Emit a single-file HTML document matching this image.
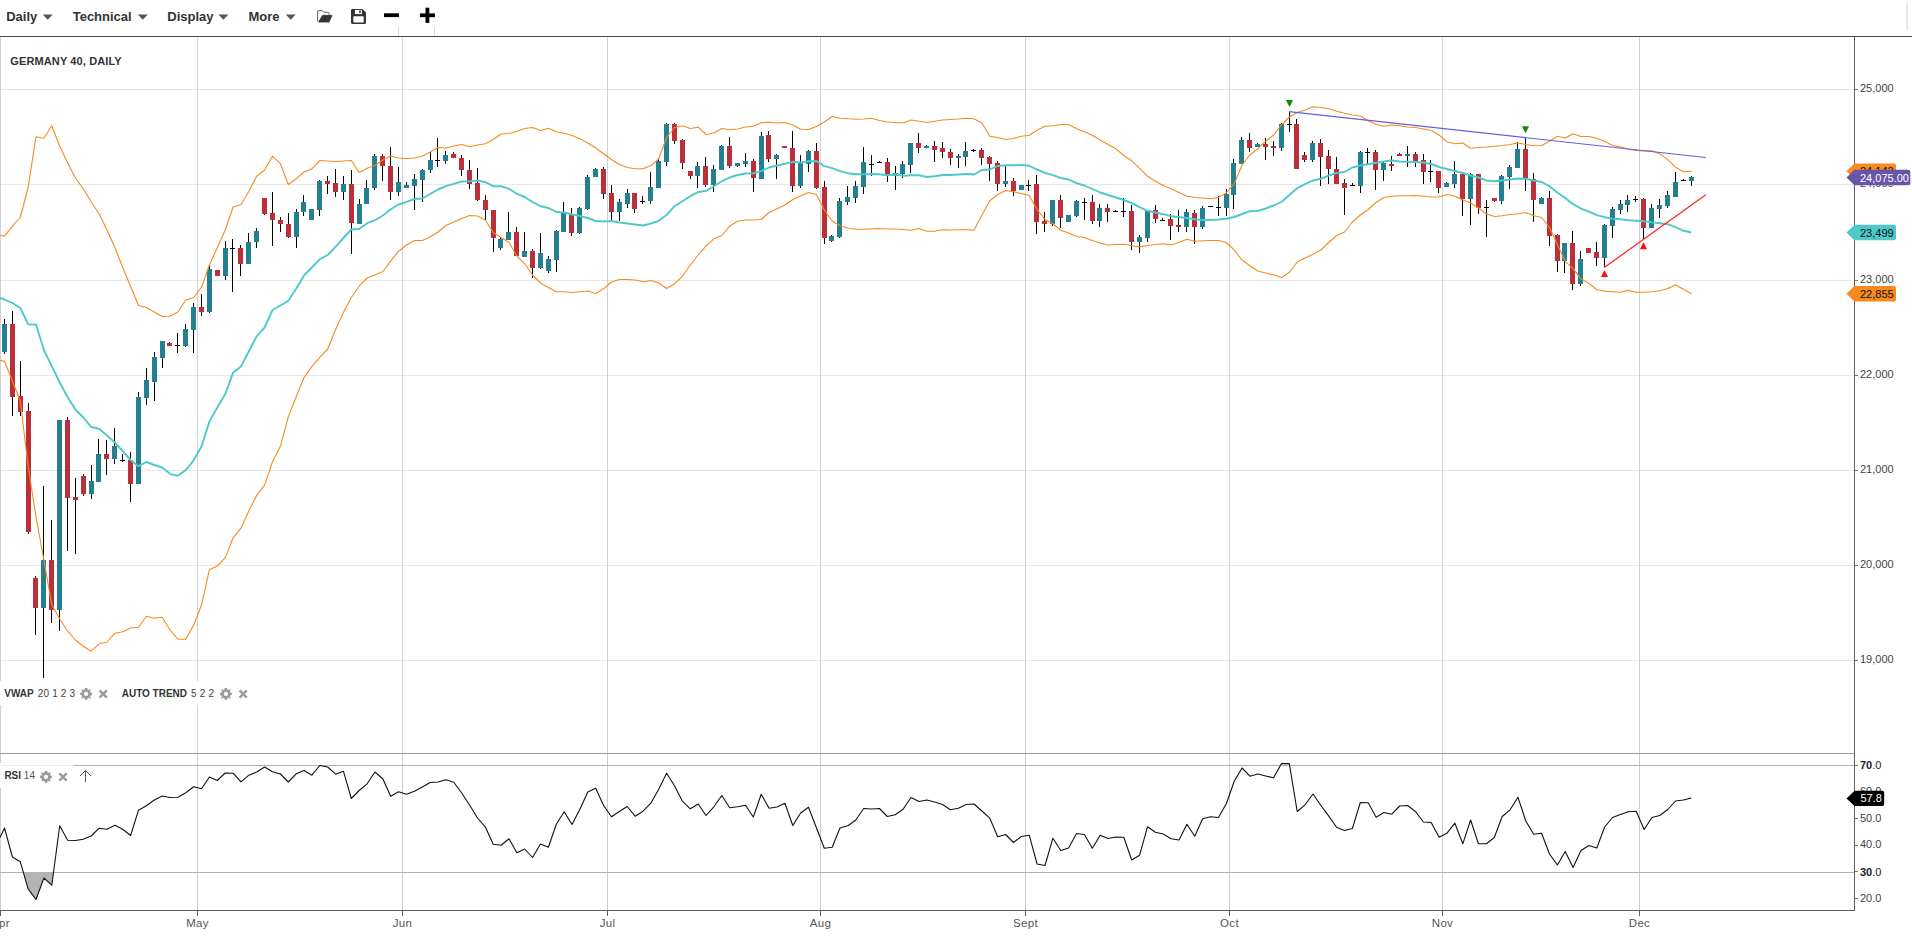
<!DOCTYPE html>
<html><head><meta charset="utf-8"><title>Germany 40 Daily</title>
<style>html,body{margin:0;padding:0;background:#fff;}body{width:1912px;height:936px;overflow:hidden;position:relative;font-family:"Liberation Sans",Arial,sans-serif}</style>
</head><body>
<svg width="1912" height="936" viewBox="0 0 1912 936" style="position:absolute;left:0;top:0">
<g shape-rendering="crispEdges">
<rect x="0" y="89" width="1854" height="1" fill="#e7e7e7"/>
<rect x="0" y="184" width="1854" height="1" fill="#e7e7e7"/>
<rect x="0" y="280" width="1854" height="1" fill="#e7e7e7"/>
<rect x="0" y="375" width="1854" height="1" fill="#e7e7e7"/>
<rect x="0" y="470" width="1854" height="1" fill="#e7e7e7"/>
<rect x="0" y="565" width="1854" height="1" fill="#e7e7e7"/>
<rect x="0" y="660" width="1854" height="1" fill="#e7e7e7"/>
<rect x="0" y="37" width="1" height="716" fill="#d2d2d2"/>
<rect x="0" y="754" width="1" height="156" fill="#cdcdcd"/>
<rect x="197" y="37" width="1" height="716" fill="#d2d2d2"/>
<rect x="197" y="754" width="1" height="156" fill="#cdcdcd"/>
<rect x="402" y="37" width="1" height="716" fill="#d2d2d2"/>
<rect x="402" y="754" width="1" height="156" fill="#cdcdcd"/>
<rect x="607" y="37" width="1" height="716" fill="#d2d2d2"/>
<rect x="607" y="754" width="1" height="156" fill="#cdcdcd"/>
<rect x="820" y="37" width="1" height="716" fill="#d2d2d2"/>
<rect x="820" y="754" width="1" height="156" fill="#cdcdcd"/>
<rect x="1025" y="37" width="1" height="716" fill="#d2d2d2"/>
<rect x="1025" y="754" width="1" height="156" fill="#cdcdcd"/>
<rect x="1229" y="37" width="1" height="716" fill="#d2d2d2"/>
<rect x="1229" y="754" width="1" height="156" fill="#cdcdcd"/>
<rect x="1442" y="37" width="1" height="716" fill="#d2d2d2"/>
<rect x="1442" y="754" width="1" height="156" fill="#cdcdcd"/>
<rect x="1639" y="37" width="1" height="716" fill="#d2d2d2"/>
<rect x="1639" y="754" width="1" height="156" fill="#cdcdcd"/>
<rect x="0" y="753" width="1854" height="1" fill="#9a9a9a"/>
<rect x="0" y="765" width="1854" height="1" fill="#b0b0b0"/>
<rect x="0" y="872" width="1854" height="1" fill="#b0b0b0"/>
</g>
<g shape-rendering="crispEdges">
<rect x="4" y="319" width="1" height="35" fill="#000"/>
<rect x="2" y="324" width="5" height="28" fill="#24808f"/>
<rect x="12" y="311" width="1" height="105" fill="#000"/>
<rect x="10" y="324" width="5" height="73" fill="#bb2f3a"/>
<rect x="20" y="361" width="1" height="55" fill="#000"/>
<rect x="18" y="396" width="5" height="16" fill="#bb2f3a"/>
<rect x="28" y="403" width="1" height="131" fill="#000"/>
<rect x="26" y="411" width="5" height="121" fill="#bb2f3a"/>
<rect x="35" y="576" width="1" height="59" fill="#000"/>
<rect x="33" y="578" width="5" height="30" fill="#bb2f3a"/>
<rect x="43" y="486" width="1" height="192" fill="#000"/>
<rect x="41" y="560" width="5" height="48" fill="#24808f"/>
<rect x="51" y="520" width="1" height="103" fill="#000"/>
<rect x="49" y="560" width="5" height="50" fill="#bb2f3a"/>
<rect x="59" y="420" width="1" height="211" fill="#000"/>
<rect x="57" y="420" width="5" height="190" fill="#24808f"/>
<rect x="67" y="417" width="1" height="134" fill="#000"/>
<rect x="65" y="420" width="5" height="78" fill="#bb2f3a"/>
<rect x="75" y="478" width="1" height="76" fill="#000"/>
<rect x="73" y="497" width="5" height="3" fill="#bb2f3a"/>
<rect x="83" y="474" width="1" height="22" fill="#000"/>
<rect x="81" y="476" width="5" height="18" fill="#bb2f3a"/>
<rect x="91" y="465" width="1" height="34" fill="#000"/>
<rect x="89" y="481" width="5" height="13" fill="#24808f"/>
<rect x="98" y="439" width="1" height="43" fill="#000"/>
<rect x="96" y="454" width="5" height="28" fill="#24808f"/>
<rect x="106" y="440" width="1" height="35" fill="#000"/>
<rect x="104" y="454" width="5" height="5" fill="#bb2f3a"/>
<rect x="114" y="428" width="1" height="36" fill="#000"/>
<rect x="112" y="446" width="5" height="13" fill="#24808f"/>
<rect x="122" y="454" width="1" height="8" fill="#000"/>
<rect x="120" y="460" width="5" height="1" fill="#000"/>
<rect x="130" y="452" width="1" height="50" fill="#000"/>
<rect x="128" y="460" width="5" height="24" fill="#bb2f3a"/>
<rect x="138" y="392" width="1" height="92" fill="#000"/>
<rect x="136" y="397" width="5" height="87" fill="#24808f"/>
<rect x="146" y="368" width="1" height="37" fill="#000"/>
<rect x="144" y="380" width="5" height="18" fill="#24808f"/>
<rect x="154" y="352" width="1" height="49" fill="#000"/>
<rect x="152" y="357" width="5" height="25" fill="#24808f"/>
<rect x="162" y="341" width="1" height="27" fill="#000"/>
<rect x="160" y="341" width="5" height="17" fill="#24808f"/>
<rect x="169" y="342" width="1" height="4" fill="#000"/>
<rect x="167" y="343" width="5" height="3" fill="#bb2f3a"/>
<rect x="177" y="333" width="1" height="20" fill="#000"/>
<rect x="175" y="345" width="5" height="1" fill="#000"/>
<rect x="185" y="324" width="1" height="23" fill="#000"/>
<rect x="183" y="329" width="5" height="17" fill="#24808f"/>
<rect x="193" y="303" width="1" height="50" fill="#000"/>
<rect x="191" y="307" width="5" height="23" fill="#24808f"/>
<rect x="201" y="294" width="1" height="22" fill="#000"/>
<rect x="199" y="307" width="5" height="5" fill="#bb2f3a"/>
<rect x="209" y="265" width="1" height="48" fill="#000"/>
<rect x="207" y="269" width="5" height="43" fill="#24808f"/>
<rect x="217" y="270" width="1" height="6" fill="#000"/>
<rect x="215" y="270" width="5" height="6" fill="#bb2f3a"/>
<rect x="225" y="241" width="1" height="39" fill="#000"/>
<rect x="223" y="248" width="5" height="28" fill="#24808f"/>
<rect x="232" y="239" width="1" height="53" fill="#000"/>
<rect x="230" y="248" width="5" height="1" fill="#000"/>
<rect x="240" y="245" width="1" height="31" fill="#000"/>
<rect x="238" y="248" width="5" height="16" fill="#bb2f3a"/>
<rect x="248" y="233" width="1" height="31" fill="#000"/>
<rect x="246" y="242" width="5" height="22" fill="#24808f"/>
<rect x="256" y="228" width="1" height="20" fill="#000"/>
<rect x="254" y="231" width="5" height="11" fill="#24808f"/>
<rect x="264" y="198" width="1" height="17" fill="#000"/>
<rect x="262" y="198" width="5" height="16" fill="#bb2f3a"/>
<rect x="272" y="192" width="1" height="54" fill="#000"/>
<rect x="270" y="213" width="5" height="7" fill="#bb2f3a"/>
<rect x="280" y="217" width="1" height="15" fill="#000"/>
<rect x="278" y="220" width="5" height="4" fill="#bb2f3a"/>
<rect x="288" y="213" width="1" height="25" fill="#000"/>
<rect x="286" y="224" width="5" height="13" fill="#bb2f3a"/>
<rect x="296" y="209" width="1" height="39" fill="#000"/>
<rect x="294" y="212" width="5" height="25" fill="#24808f"/>
<rect x="303" y="195" width="1" height="21" fill="#000"/>
<rect x="301" y="202" width="5" height="10" fill="#24808f"/>
<rect x="311" y="209" width="1" height="11" fill="#000"/>
<rect x="309" y="209" width="5" height="11" fill="#24808f"/>
<rect x="319" y="180" width="1" height="36" fill="#000"/>
<rect x="317" y="181" width="5" height="29" fill="#24808f"/>
<rect x="327" y="176" width="1" height="18" fill="#000"/>
<rect x="325" y="181" width="5" height="3" fill="#bb2f3a"/>
<rect x="335" y="169" width="1" height="28" fill="#000"/>
<rect x="333" y="183" width="5" height="9" fill="#bb2f3a"/>
<rect x="343" y="176" width="1" height="24" fill="#000"/>
<rect x="341" y="184" width="5" height="8" fill="#24808f"/>
<rect x="351" y="170" width="1" height="84" fill="#000"/>
<rect x="349" y="184" width="5" height="39" fill="#bb2f3a"/>
<rect x="359" y="199" width="1" height="25" fill="#000"/>
<rect x="357" y="204" width="5" height="20" fill="#24808f"/>
<rect x="366" y="180" width="1" height="24" fill="#000"/>
<rect x="364" y="188" width="5" height="16" fill="#24808f"/>
<rect x="374" y="154" width="1" height="36" fill="#000"/>
<rect x="372" y="156" width="5" height="32" fill="#24808f"/>
<rect x="382" y="154" width="1" height="27" fill="#000"/>
<rect x="380" y="156" width="5" height="10" fill="#bb2f3a"/>
<rect x="390" y="147" width="1" height="53" fill="#000"/>
<rect x="388" y="166" width="5" height="26" fill="#bb2f3a"/>
<rect x="398" y="167" width="1" height="29" fill="#000"/>
<rect x="396" y="182" width="5" height="10" fill="#24808f"/>
<rect x="406" y="182" width="1" height="6" fill="#000"/>
<rect x="404" y="185" width="5" height="3" fill="#24808f"/>
<rect x="414" y="174" width="1" height="36" fill="#000"/>
<rect x="412" y="179" width="5" height="7" fill="#24808f"/>
<rect x="422" y="169" width="1" height="33" fill="#000"/>
<rect x="420" y="170" width="5" height="10" fill="#24808f"/>
<rect x="430" y="152" width="1" height="21" fill="#000"/>
<rect x="428" y="160" width="5" height="10" fill="#24808f"/>
<rect x="437" y="138" width="1" height="29" fill="#000"/>
<rect x="435" y="160" width="5" height="1" fill="#000"/>
<rect x="445" y="151" width="1" height="13" fill="#000"/>
<rect x="443" y="155" width="5" height="6" fill="#24808f"/>
<rect x="453" y="152" width="1" height="6" fill="#000"/>
<rect x="451" y="154" width="5" height="4" fill="#bb2f3a"/>
<rect x="461" y="155" width="1" height="21" fill="#000"/>
<rect x="459" y="158" width="5" height="12" fill="#bb2f3a"/>
<rect x="469" y="160" width="1" height="29" fill="#000"/>
<rect x="467" y="170" width="5" height="14" fill="#bb2f3a"/>
<rect x="477" y="168" width="1" height="33" fill="#000"/>
<rect x="475" y="183" width="5" height="17" fill="#bb2f3a"/>
<rect x="485" y="195" width="1" height="25" fill="#000"/>
<rect x="483" y="200" width="5" height="10" fill="#bb2f3a"/>
<rect x="493" y="210" width="1" height="42" fill="#000"/>
<rect x="491" y="210" width="5" height="28" fill="#bb2f3a"/>
<rect x="500" y="237" width="1" height="13" fill="#000"/>
<rect x="498" y="239" width="5" height="9" fill="#24808f"/>
<rect x="508" y="212" width="1" height="28" fill="#000"/>
<rect x="506" y="232" width="5" height="8" fill="#24808f"/>
<rect x="516" y="227" width="1" height="29" fill="#000"/>
<rect x="514" y="232" width="5" height="24" fill="#bb2f3a"/>
<rect x="524" y="232" width="1" height="25" fill="#000"/>
<rect x="522" y="251" width="5" height="6" fill="#24808f"/>
<rect x="532" y="249" width="1" height="29" fill="#000"/>
<rect x="530" y="251" width="5" height="17" fill="#bb2f3a"/>
<rect x="540" y="233" width="1" height="36" fill="#000"/>
<rect x="538" y="253" width="5" height="15" fill="#24808f"/>
<rect x="548" y="256" width="1" height="17" fill="#000"/>
<rect x="546" y="259" width="5" height="12" fill="#24808f"/>
<rect x="556" y="230" width="1" height="42" fill="#000"/>
<rect x="554" y="231" width="5" height="29" fill="#24808f"/>
<rect x="563" y="202" width="1" height="30" fill="#000"/>
<rect x="561" y="212" width="5" height="20" fill="#24808f"/>
<rect x="571" y="208" width="1" height="28" fill="#000"/>
<rect x="569" y="215" width="5" height="18" fill="#bb2f3a"/>
<rect x="579" y="207" width="1" height="27" fill="#000"/>
<rect x="577" y="208" width="5" height="25" fill="#24808f"/>
<rect x="587" y="175" width="1" height="35" fill="#000"/>
<rect x="585" y="177" width="5" height="32" fill="#24808f"/>
<rect x="595" y="168" width="1" height="9" fill="#000"/>
<rect x="593" y="169" width="5" height="8" fill="#24808f"/>
<rect x="603" y="167" width="1" height="32" fill="#000"/>
<rect x="601" y="169" width="5" height="25" fill="#bb2f3a"/>
<rect x="611" y="185" width="1" height="35" fill="#000"/>
<rect x="609" y="193" width="5" height="19" fill="#bb2f3a"/>
<rect x="619" y="199" width="1" height="22" fill="#000"/>
<rect x="617" y="202" width="5" height="10" fill="#24808f"/>
<rect x="627" y="189" width="1" height="19" fill="#000"/>
<rect x="625" y="193" width="5" height="11" fill="#24808f"/>
<rect x="634" y="193" width="1" height="20" fill="#000"/>
<rect x="632" y="193" width="5" height="16" fill="#bb2f3a"/>
<rect x="642" y="196" width="1" height="8" fill="#000"/>
<rect x="640" y="201" width="5" height="1" fill="#000"/>
<rect x="650" y="172" width="1" height="32" fill="#000"/>
<rect x="648" y="187" width="5" height="14" fill="#24808f"/>
<rect x="658" y="158" width="1" height="30" fill="#000"/>
<rect x="656" y="161" width="5" height="27" fill="#24808f"/>
<rect x="666" y="123" width="1" height="43" fill="#000"/>
<rect x="664" y="124" width="5" height="38" fill="#24808f"/>
<rect x="674" y="123" width="1" height="21" fill="#000"/>
<rect x="672" y="124" width="5" height="17" fill="#bb2f3a"/>
<rect x="682" y="139" width="1" height="30" fill="#000"/>
<rect x="680" y="140" width="5" height="23" fill="#bb2f3a"/>
<rect x="690" y="171" width="1" height="8" fill="#000"/>
<rect x="688" y="171" width="5" height="5" fill="#bb2f3a"/>
<rect x="697" y="162" width="1" height="26" fill="#000"/>
<rect x="695" y="166" width="5" height="10" fill="#24808f"/>
<rect x="705" y="157" width="1" height="30" fill="#000"/>
<rect x="703" y="166" width="5" height="19" fill="#bb2f3a"/>
<rect x="713" y="165" width="1" height="27" fill="#000"/>
<rect x="711" y="169" width="5" height="16" fill="#24808f"/>
<rect x="721" y="145" width="1" height="25" fill="#000"/>
<rect x="719" y="146" width="5" height="24" fill="#24808f"/>
<rect x="729" y="137" width="1" height="31" fill="#000"/>
<rect x="727" y="146" width="5" height="20" fill="#bb2f3a"/>
<rect x="737" y="163" width="1" height="4" fill="#000"/>
<rect x="735" y="163" width="5" height="3" fill="#24808f"/>
<rect x="745" y="153" width="1" height="14" fill="#000"/>
<rect x="743" y="161" width="5" height="3" fill="#24808f"/>
<rect x="753" y="159" width="1" height="33" fill="#000"/>
<rect x="751" y="161" width="5" height="17" fill="#bb2f3a"/>
<rect x="761" y="132" width="1" height="47" fill="#000"/>
<rect x="759" y="136" width="5" height="43" fill="#24808f"/>
<rect x="768" y="131" width="1" height="31" fill="#000"/>
<rect x="766" y="135" width="5" height="24" fill="#bb2f3a"/>
<rect x="776" y="154" width="1" height="25" fill="#000"/>
<rect x="774" y="155" width="5" height="4" fill="#24808f"/>
<rect x="784" y="146" width="1" height="2" fill="#000"/>
<rect x="782" y="146" width="5" height="2" fill="#bb2f3a"/>
<rect x="792" y="131" width="1" height="61" fill="#000"/>
<rect x="790" y="148" width="5" height="38" fill="#bb2f3a"/>
<rect x="800" y="155" width="1" height="33" fill="#000"/>
<rect x="798" y="162" width="5" height="24" fill="#24808f"/>
<rect x="808" y="150" width="1" height="22" fill="#000"/>
<rect x="806" y="151" width="5" height="13" fill="#24808f"/>
<rect x="816" y="143" width="1" height="46" fill="#000"/>
<rect x="814" y="151" width="5" height="37" fill="#bb2f3a"/>
<rect x="824" y="181" width="1" height="63" fill="#000"/>
<rect x="822" y="187" width="5" height="51" fill="#bb2f3a"/>
<rect x="831" y="235" width="1" height="7" fill="#000"/>
<rect x="829" y="236" width="5" height="5" fill="#24808f"/>
<rect x="839" y="198" width="1" height="40" fill="#000"/>
<rect x="837" y="201" width="5" height="36" fill="#24808f"/>
<rect x="847" y="186" width="1" height="19" fill="#000"/>
<rect x="845" y="197" width="5" height="5" fill="#24808f"/>
<rect x="855" y="181" width="1" height="22" fill="#000"/>
<rect x="853" y="186" width="5" height="12" fill="#24808f"/>
<rect x="863" y="147" width="1" height="47" fill="#000"/>
<rect x="861" y="162" width="5" height="25" fill="#24808f"/>
<rect x="871" y="155" width="1" height="21" fill="#000"/>
<rect x="869" y="164" width="5" height="1" fill="#000"/>
<rect x="879" y="161" width="1" height="2" fill="#000"/>
<rect x="877" y="162" width="5" height="1" fill="#000"/>
<rect x="887" y="158" width="1" height="24" fill="#000"/>
<rect x="885" y="162" width="5" height="14" fill="#bb2f3a"/>
<rect x="895" y="166" width="1" height="24" fill="#000"/>
<rect x="893" y="173" width="5" height="3" fill="#24808f"/>
<rect x="902" y="161" width="1" height="17" fill="#000"/>
<rect x="900" y="164" width="5" height="10" fill="#24808f"/>
<rect x="910" y="143" width="1" height="30" fill="#000"/>
<rect x="908" y="143" width="5" height="22" fill="#24808f"/>
<rect x="918" y="133" width="1" height="20" fill="#000"/>
<rect x="916" y="143" width="5" height="5" fill="#bb2f3a"/>
<rect x="926" y="145" width="1" height="3" fill="#000"/>
<rect x="924" y="146" width="5" height="2" fill="#24808f"/>
<rect x="934" y="141" width="1" height="21" fill="#000"/>
<rect x="932" y="146" width="5" height="4" fill="#bb2f3a"/>
<rect x="942" y="142" width="1" height="16" fill="#000"/>
<rect x="940" y="148" width="5" height="4" fill="#bb2f3a"/>
<rect x="950" y="149" width="1" height="16" fill="#000"/>
<rect x="948" y="152" width="5" height="6" fill="#bb2f3a"/>
<rect x="958" y="154" width="1" height="14" fill="#000"/>
<rect x="956" y="156" width="5" height="2" fill="#24808f"/>
<rect x="965" y="142" width="1" height="24" fill="#000"/>
<rect x="963" y="151" width="5" height="6" fill="#24808f"/>
<rect x="973" y="149" width="1" height="3" fill="#000"/>
<rect x="971" y="150" width="5" height="1" fill="#000"/>
<rect x="981" y="148" width="1" height="17" fill="#000"/>
<rect x="979" y="150" width="5" height="8" fill="#bb2f3a"/>
<rect x="989" y="156" width="1" height="25" fill="#000"/>
<rect x="987" y="157" width="5" height="7" fill="#bb2f3a"/>
<rect x="997" y="161" width="1" height="30" fill="#000"/>
<rect x="995" y="163" width="5" height="21" fill="#bb2f3a"/>
<rect x="1005" y="165" width="1" height="22" fill="#000"/>
<rect x="1003" y="181" width="5" height="3" fill="#24808f"/>
<rect x="1013" y="178" width="1" height="18" fill="#000"/>
<rect x="1011" y="181" width="5" height="10" fill="#bb2f3a"/>
<rect x="1021" y="185" width="1" height="5" fill="#000"/>
<rect x="1019" y="185" width="5" height="5" fill="#24808f"/>
<rect x="1028" y="180" width="1" height="11" fill="#000"/>
<rect x="1026" y="185" width="5" height="1" fill="#000"/>
<rect x="1036" y="175" width="1" height="59" fill="#000"/>
<rect x="1034" y="184" width="5" height="38" fill="#bb2f3a"/>
<rect x="1044" y="212" width="1" height="20" fill="#000"/>
<rect x="1042" y="221" width="5" height="3" fill="#bb2f3a"/>
<rect x="1052" y="200" width="1" height="26" fill="#000"/>
<rect x="1050" y="200" width="5" height="24" fill="#24808f"/>
<rect x="1060" y="195" width="1" height="33" fill="#000"/>
<rect x="1058" y="200" width="5" height="18" fill="#bb2f3a"/>
<rect x="1068" y="215" width="1" height="7" fill="#000"/>
<rect x="1066" y="215" width="5" height="7" fill="#24808f"/>
<rect x="1076" y="200" width="1" height="17" fill="#000"/>
<rect x="1074" y="201" width="5" height="15" fill="#24808f"/>
<rect x="1084" y="198" width="1" height="22" fill="#000"/>
<rect x="1082" y="202" width="5" height="1" fill="#000"/>
<rect x="1092" y="195" width="1" height="29" fill="#000"/>
<rect x="1090" y="202" width="5" height="19" fill="#bb2f3a"/>
<rect x="1099" y="204" width="1" height="23" fill="#000"/>
<rect x="1097" y="208" width="5" height="13" fill="#24808f"/>
<rect x="1107" y="204" width="1" height="18" fill="#000"/>
<rect x="1105" y="208" width="5" height="4" fill="#bb2f3a"/>
<rect x="1115" y="210" width="1" height="2" fill="#000"/>
<rect x="1113" y="211" width="5" height="1" fill="#000"/>
<rect x="1123" y="198" width="1" height="19" fill="#000"/>
<rect x="1121" y="211" width="5" height="1" fill="#000"/>
<rect x="1131" y="205" width="1" height="45" fill="#000"/>
<rect x="1129" y="211" width="5" height="31" fill="#bb2f3a"/>
<rect x="1139" y="235" width="1" height="18" fill="#000"/>
<rect x="1137" y="237" width="5" height="5" fill="#24808f"/>
<rect x="1147" y="210" width="1" height="32" fill="#000"/>
<rect x="1145" y="210" width="5" height="28" fill="#24808f"/>
<rect x="1155" y="205" width="1" height="18" fill="#000"/>
<rect x="1153" y="210" width="5" height="9" fill="#bb2f3a"/>
<rect x="1162" y="218" width="1" height="3" fill="#000"/>
<rect x="1160" y="220" width="5" height="1" fill="#000"/>
<rect x="1170" y="214" width="1" height="26" fill="#000"/>
<rect x="1168" y="219" width="5" height="7" fill="#bb2f3a"/>
<rect x="1178" y="210" width="1" height="22" fill="#000"/>
<rect x="1176" y="225" width="5" height="2" fill="#bb2f3a"/>
<rect x="1186" y="209" width="1" height="23" fill="#000"/>
<rect x="1184" y="212" width="5" height="15" fill="#24808f"/>
<rect x="1194" y="210" width="1" height="34" fill="#000"/>
<rect x="1192" y="213" width="5" height="14" fill="#bb2f3a"/>
<rect x="1202" y="206" width="1" height="23" fill="#000"/>
<rect x="1200" y="208" width="5" height="19" fill="#24808f"/>
<rect x="1210" y="206" width="1" height="1" fill="#000"/>
<rect x="1208" y="206" width="5" height="1" fill="#000"/>
<rect x="1218" y="196" width="1" height="20" fill="#000"/>
<rect x="1216" y="207" width="5" height="1" fill="#000"/>
<rect x="1226" y="189" width="1" height="27" fill="#000"/>
<rect x="1224" y="194" width="5" height="14" fill="#24808f"/>
<rect x="1233" y="159" width="1" height="50" fill="#000"/>
<rect x="1231" y="163" width="5" height="32" fill="#24808f"/>
<rect x="1241" y="137" width="1" height="27" fill="#000"/>
<rect x="1239" y="140" width="5" height="24" fill="#24808f"/>
<rect x="1249" y="133" width="1" height="19" fill="#000"/>
<rect x="1247" y="140" width="5" height="8" fill="#bb2f3a"/>
<rect x="1257" y="143" width="1" height="4" fill="#000"/>
<rect x="1255" y="144" width="5" height="3" fill="#24808f"/>
<rect x="1265" y="138" width="1" height="22" fill="#000"/>
<rect x="1263" y="144" width="5" height="3" fill="#bb2f3a"/>
<rect x="1273" y="141" width="1" height="15" fill="#000"/>
<rect x="1271" y="146" width="5" height="2" fill="#bb2f3a"/>
<rect x="1281" y="123" width="1" height="28" fill="#000"/>
<rect x="1279" y="124" width="5" height="24" fill="#24808f"/>
<rect x="1289" y="112" width="1" height="20" fill="#000"/>
<rect x="1287" y="124" width="5" height="1" fill="#000"/>
<rect x="1296" y="119" width="1" height="50" fill="#000"/>
<rect x="1294" y="124" width="5" height="45" fill="#bb2f3a"/>
<rect x="1304" y="152" width="1" height="10" fill="#000"/>
<rect x="1302" y="155" width="5" height="5" fill="#bb2f3a"/>
<rect x="1312" y="141" width="1" height="21" fill="#000"/>
<rect x="1310" y="143" width="5" height="17" fill="#24808f"/>
<rect x="1320" y="139" width="1" height="47" fill="#000"/>
<rect x="1318" y="143" width="5" height="14" fill="#bb2f3a"/>
<rect x="1328" y="150" width="1" height="34" fill="#000"/>
<rect x="1326" y="156" width="5" height="13" fill="#bb2f3a"/>
<rect x="1336" y="157" width="1" height="27" fill="#000"/>
<rect x="1334" y="169" width="5" height="15" fill="#bb2f3a"/>
<rect x="1344" y="179" width="1" height="36" fill="#000"/>
<rect x="1342" y="183" width="5" height="5" fill="#bb2f3a"/>
<rect x="1352" y="183" width="1" height="3" fill="#000"/>
<rect x="1350" y="185" width="5" height="1" fill="#000"/>
<rect x="1360" y="151" width="1" height="42" fill="#000"/>
<rect x="1358" y="152" width="5" height="34" fill="#24808f"/>
<rect x="1367" y="148" width="1" height="16" fill="#000"/>
<rect x="1365" y="152" width="5" height="1" fill="#000"/>
<rect x="1375" y="150" width="1" height="40" fill="#000"/>
<rect x="1373" y="152" width="5" height="18" fill="#bb2f3a"/>
<rect x="1383" y="162" width="1" height="19" fill="#000"/>
<rect x="1381" y="163" width="5" height="7" fill="#24808f"/>
<rect x="1391" y="156" width="1" height="15" fill="#000"/>
<rect x="1389" y="164" width="5" height="2" fill="#bb2f3a"/>
<rect x="1399" y="153" width="1" height="3" fill="#000"/>
<rect x="1397" y="154" width="5" height="2" fill="#bb2f3a"/>
<rect x="1407" y="146" width="1" height="21" fill="#000"/>
<rect x="1405" y="154" width="5" height="2" fill="#24808f"/>
<rect x="1415" y="152" width="1" height="15" fill="#000"/>
<rect x="1413" y="154" width="5" height="7" fill="#bb2f3a"/>
<rect x="1423" y="154" width="1" height="30" fill="#000"/>
<rect x="1421" y="160" width="5" height="12" fill="#bb2f3a"/>
<rect x="1430" y="160" width="1" height="22" fill="#000"/>
<rect x="1428" y="171" width="5" height="1" fill="#000"/>
<rect x="1438" y="171" width="1" height="22" fill="#000"/>
<rect x="1436" y="171" width="5" height="17" fill="#bb2f3a"/>
<rect x="1446" y="182" width="1" height="5" fill="#000"/>
<rect x="1444" y="183" width="5" height="4" fill="#24808f"/>
<rect x="1454" y="161" width="1" height="27" fill="#000"/>
<rect x="1452" y="174" width="5" height="10" fill="#24808f"/>
<rect x="1462" y="174" width="1" height="42" fill="#000"/>
<rect x="1460" y="174" width="5" height="25" fill="#bb2f3a"/>
<rect x="1470" y="173" width="1" height="52" fill="#000"/>
<rect x="1468" y="174" width="5" height="25" fill="#24808f"/>
<rect x="1478" y="174" width="1" height="40" fill="#000"/>
<rect x="1476" y="174" width="5" height="34" fill="#bb2f3a"/>
<rect x="1486" y="200" width="1" height="37" fill="#000"/>
<rect x="1484" y="207" width="5" height="1" fill="#000"/>
<rect x="1494" y="198" width="1" height="4" fill="#000"/>
<rect x="1492" y="198" width="5" height="3" fill="#bb2f3a"/>
<rect x="1501" y="175" width="1" height="29" fill="#000"/>
<rect x="1499" y="176" width="5" height="25" fill="#24808f"/>
<rect x="1509" y="165" width="1" height="24" fill="#000"/>
<rect x="1507" y="167" width="5" height="10" fill="#24808f"/>
<rect x="1517" y="142" width="1" height="26" fill="#000"/>
<rect x="1515" y="149" width="5" height="19" fill="#24808f"/>
<rect x="1525" y="138" width="1" height="53" fill="#000"/>
<rect x="1523" y="149" width="5" height="29" fill="#bb2f3a"/>
<rect x="1533" y="173" width="1" height="49" fill="#000"/>
<rect x="1531" y="179" width="5" height="21" fill="#bb2f3a"/>
<rect x="1541" y="197" width="1" height="7" fill="#000"/>
<rect x="1539" y="198" width="5" height="6" fill="#24808f"/>
<rect x="1549" y="191" width="1" height="55" fill="#000"/>
<rect x="1547" y="198" width="5" height="38" fill="#bb2f3a"/>
<rect x="1557" y="234" width="1" height="38" fill="#000"/>
<rect x="1555" y="235" width="5" height="26" fill="#bb2f3a"/>
<rect x="1564" y="243" width="1" height="30" fill="#000"/>
<rect x="1562" y="243" width="5" height="18" fill="#24808f"/>
<rect x="1572" y="231" width="1" height="59" fill="#000"/>
<rect x="1570" y="243" width="5" height="41" fill="#bb2f3a"/>
<rect x="1580" y="251" width="1" height="35" fill="#000"/>
<rect x="1578" y="259" width="5" height="25" fill="#24808f"/>
<rect x="1588" y="248" width="1" height="5" fill="#000"/>
<rect x="1586" y="248" width="5" height="5" fill="#bb2f3a"/>
<rect x="1596" y="242" width="1" height="24" fill="#000"/>
<rect x="1594" y="252" width="5" height="6" fill="#bb2f3a"/>
<rect x="1604" y="224" width="1" height="43" fill="#000"/>
<rect x="1602" y="225" width="5" height="33" fill="#24808f"/>
<rect x="1612" y="207" width="1" height="31" fill="#000"/>
<rect x="1610" y="209" width="5" height="17" fill="#24808f"/>
<rect x="1620" y="200" width="1" height="14" fill="#000"/>
<rect x="1618" y="204" width="5" height="6" fill="#24808f"/>
<rect x="1627" y="195" width="1" height="17" fill="#000"/>
<rect x="1625" y="200" width="5" height="5" fill="#24808f"/>
<rect x="1635" y="196" width="1" height="6" fill="#000"/>
<rect x="1633" y="199" width="5" height="1" fill="#000"/>
<rect x="1643" y="198" width="1" height="41" fill="#000"/>
<rect x="1641" y="199" width="5" height="29" fill="#bb2f3a"/>
<rect x="1651" y="204" width="1" height="24" fill="#000"/>
<rect x="1649" y="208" width="5" height="20" fill="#24808f"/>
<rect x="1659" y="199" width="1" height="19" fill="#000"/>
<rect x="1657" y="205" width="5" height="4" fill="#24808f"/>
<rect x="1667" y="191" width="1" height="17" fill="#000"/>
<rect x="1665" y="195" width="5" height="11" fill="#24808f"/>
<rect x="1675" y="172" width="1" height="25" fill="#000"/>
<rect x="1673" y="182" width="5" height="15" fill="#24808f"/>
<rect x="1683" y="179" width="1" height="2" fill="#000"/>
<rect x="1681" y="180" width="5" height="1" fill="#000"/>
<rect x="1691" y="176" width="1" height="10" fill="#000"/>
<rect x="1689" y="177" width="5" height="4" fill="#24808f"/>
</g>
<polyline fill="none" stroke="#f68a1f" stroke-width="1.1" stroke-linejoin="round" points="0.0,235.0 4.5,236.2 12.4,226.2 20.3,217.5 28.1,187.5 36.0,136.8 43.9,138.2 51.8,125.8 59.7,146.2 67.6,162.5 75.4,178.0 83.3,188.8 91.2,202.0 99.1,213.8 107.0,230.0 114.9,247.5 122.7,267.5 130.6,286.2 138.5,305.5 146.4,307.5 154.3,312.0 162.2,316.5 170.0,316.2 177.9,312.0 185.8,300.0 193.7,297.5 201.6,287.0 209.4,265.0 217.3,247.5 225.2,230.0 233.1,207.0 241.0,204.5 248.9,191.2 256.7,176.2 264.6,170.0 272.5,156.2 280.4,163.8 288.3,184.5 296.2,178.8 304.0,172.0 311.9,168.8 319.8,160.5 327.7,161.0 335.6,161.5 343.4,161.0 351.3,160.5 359.2,172.5 367.1,168.2 375.0,165.5 382.9,160.0 390.7,156.0 398.6,158.0 406.5,158.5 414.4,158.0 422.3,156.2 430.2,152.0 438.0,147.5 445.9,148.0 453.8,146.0 461.7,144.5 469.6,146.8 477.5,145.0 485.3,143.8 493.2,139.5 501.1,134.0 509.0,133.5 516.9,131.5 524.7,128.5 532.6,127.5 540.5,130.5 548.4,128.2 556.3,131.8 564.2,133.2 572.0,135.5 579.9,138.8 587.8,143.0 595.7,148.0 603.6,153.8 611.5,159.5 619.3,164.5 627.2,167.5 635.1,168.8 643.0,168.8 650.9,165.5 658.7,158.8 666.6,137.5 674.5,127.5 682.4,125.8 690.3,128.5 698.2,127.2 706.0,134.5 713.9,133.0 721.8,128.5 729.7,129.8 737.6,129.0 745.5,127.0 753.3,126.2 761.2,122.8 769.1,122.2 777.0,123.0 784.9,122.5 792.8,125.0 800.6,129.2 808.5,129.5 816.4,126.5 824.3,122.0 832.2,116.5 840.0,118.2 847.9,118.8 855.8,119.2 863.7,119.0 871.6,118.2 879.5,120.5 887.3,122.0 895.2,122.5 903.1,123.0 911.0,120.0 918.9,121.2 926.8,122.5 934.6,121.2 942.5,120.0 950.4,119.5 958.3,119.0 966.2,118.2 974.0,118.8 981.9,123.0 989.8,136.2 997.7,137.5 1005.6,139.5 1013.5,138.5 1021.3,136.2 1029.2,135.2 1037.1,130.2 1045.0,126.2 1052.9,125.8 1060.8,124.5 1068.6,124.5 1076.5,128.8 1084.4,131.8 1092.3,135.2 1100.2,140.0 1108.0,144.5 1115.9,148.8 1123.8,155.5 1131.7,160.8 1139.6,168.4 1147.5,176.2 1155.3,181.2 1163.2,185.5 1171.1,188.8 1179.0,192.5 1186.9,196.2 1194.8,197.5 1202.6,198.0 1210.5,198.8 1218.4,197.5 1226.3,193.0 1234.2,183.8 1242.1,165.0 1249.9,155.0 1257.8,148.8 1265.7,141.2 1273.6,135.0 1281.5,125.0 1289.3,117.0 1297.2,112.5 1305.1,110.0 1313.0,106.8 1320.9,107.5 1328.8,108.8 1336.6,111.2 1344.5,113.2 1352.4,115.0 1360.3,116.0 1368.2,120.8 1376.1,124.2 1383.9,126.2 1391.8,125.0 1399.7,125.8 1407.6,127.0 1415.5,127.5 1423.4,129.0 1431.2,130.5 1439.1,135.0 1447.0,141.8 1454.9,143.8 1462.8,143.0 1470.6,148.2 1478.5,147.5 1486.4,147.0 1494.3,146.2 1502.2,145.5 1510.1,144.5 1517.9,143.0 1525.8,144.5 1533.7,145.8 1541.6,145.5 1549.5,141.2 1557.4,136.2 1565.2,138.0 1573.1,133.8 1581.0,136.5 1588.9,136.5 1596.8,138.2 1604.6,141.2 1612.5,145.5 1620.4,146.9 1628.3,149.2 1636.2,150.4 1644.1,150.9 1651.9,150.7 1659.8,153.9 1667.7,159.6 1675.6,167.2 1683.5,171.7 1691.4,171.4"/>
<polyline fill="none" stroke="#f68a1f" stroke-width="1.1" stroke-linejoin="round" points="0.0,360.4 4.5,361.2 12.4,381.0 20.3,401.0 28.1,466.0 36.0,517.0 43.9,560.0 51.8,605.0 59.7,618.8 67.6,631.2 75.4,640.0 83.3,646.2 91.2,651.2 99.1,643.8 107.0,642.0 114.9,633.2 122.7,631.8 130.6,628.0 138.5,627.2 146.4,616.2 154.3,618.2 162.2,617.2 170.0,630.0 177.9,639.2 185.8,639.2 193.7,625.0 201.6,605.0 209.4,569.7 217.3,566.0 225.2,557.9 233.1,537.8 241.0,528.2 248.9,510.8 256.7,495.3 264.6,485.1 272.5,461.8 280.4,446.3 288.3,416.9 296.2,396.8 304.0,377.6 311.9,366.4 319.8,357.4 327.7,349.0 335.6,329.5 343.4,312.5 351.3,297.5 359.2,286.2 367.1,278.0 375.0,275.0 382.9,271.5 390.7,261.2 398.6,251.2 406.5,245.0 414.4,240.5 422.3,240.5 430.2,237.0 438.0,232.0 445.9,225.5 453.8,222.0 461.7,218.5 469.6,215.5 477.5,216.0 485.3,220.0 493.2,232.5 501.1,237.5 509.0,242.5 516.9,256.2 524.7,263.8 532.6,275.0 540.5,283.0 548.4,287.5 556.3,291.8 564.2,291.8 572.0,292.5 579.9,291.8 587.8,291.0 595.7,293.5 603.6,288.8 611.5,282.0 619.3,279.5 627.2,279.5 635.1,280.0 643.0,281.8 650.9,280.5 658.7,283.0 666.6,288.5 674.5,283.8 682.4,276.2 690.3,265.0 698.2,255.0 706.0,246.2 713.9,238.8 721.8,235.5 729.7,226.2 737.6,221.2 745.5,220.0 753.3,220.0 761.2,219.5 769.1,212.5 777.0,208.8 784.9,205.0 792.8,199.5 800.6,196.0 808.5,192.5 816.4,194.5 824.3,210.0 832.2,221.0 840.0,225.8 847.9,228.0 855.8,229.2 863.7,229.2 871.6,228.8 879.5,228.5 887.3,229.0 895.2,229.0 903.1,229.5 911.0,230.2 918.9,228.5 926.8,231.2 934.6,231.2 942.5,229.8 950.4,230.0 958.3,229.8 966.2,229.5 974.0,230.2 981.9,215.0 989.8,200.8 997.7,194.5 1005.6,190.5 1013.5,191.8 1021.3,193.5 1029.2,195.5 1037.1,209.5 1045.0,219.5 1052.9,223.8 1060.8,230.2 1068.6,233.0 1076.5,236.5 1084.4,237.5 1092.3,240.5 1100.2,243.0 1108.0,245.0 1115.9,244.5 1123.8,244.2 1131.7,245.8 1139.6,246.9 1147.5,245.5 1155.3,244.5 1163.2,243.8 1171.1,245.0 1179.0,242.5 1186.9,239.2 1194.8,241.2 1202.6,240.8 1210.5,240.5 1218.4,240.5 1226.3,242.5 1234.2,250.0 1242.1,260.0 1249.9,265.8 1257.8,271.0 1265.7,273.0 1273.6,275.0 1281.5,277.5 1289.3,272.5 1297.2,262.0 1305.1,258.0 1313.0,254.2 1320.9,250.0 1328.8,242.5 1336.6,235.5 1344.5,232.0 1352.4,222.0 1360.3,215.0 1368.2,209.5 1376.1,202.5 1383.9,197.5 1391.8,196.2 1399.7,195.8 1407.6,195.8 1415.5,195.5 1423.4,196.2 1431.2,197.0 1439.1,197.0 1447.0,194.5 1454.9,196.2 1462.8,200.0 1470.6,203.0 1478.5,208.0 1486.4,213.8 1494.3,216.5 1502.2,215.8 1510.1,214.5 1517.9,213.8 1525.8,212.5 1533.7,215.8 1541.6,217.5 1549.5,227.5 1565.2,261.3 1573.1,268.7 1581.0,278.8 1588.9,283.4 1596.8,289.8 1604.6,291.1 1612.5,291.7 1620.4,292.2 1628.3,290.4 1636.2,292.2 1644.1,292.2 1651.9,291.7 1659.8,290.8 1667.7,288.5 1675.6,284.9 1683.5,289.3 1691.4,293.7"/>
<polyline fill="none" stroke="#4dc9c9" stroke-width="1.9" stroke-linejoin="round" points="0.0,298.0 4.5,299.5 12.4,303.0 20.3,308.0 28.1,324.2 36.0,324.5 43.9,350.0 51.8,366.2 59.7,382.5 67.6,397.0 75.4,409.5 83.3,417.5 91.2,427.0 99.1,428.8 107.0,435.5 114.9,442.5 122.7,451.2 130.6,460.0 138.5,466.2 146.4,462.0 154.3,465.0 162.2,467.5 170.0,473.8 177.9,475.8 185.8,470.0 193.7,460.3 201.6,446.3 209.4,421.6 217.3,407.6 225.2,394.3 233.1,372.6 241.0,366.4 248.9,351.2 256.7,336.3 264.6,327.5 272.5,310.0 280.4,305.5 288.3,300.8 296.2,288.8 304.0,275.5 311.9,267.5 319.8,259.2 327.7,255.0 335.6,246.8 343.4,238.0 351.3,229.5 359.2,229.0 367.1,223.2 375.0,220.2 382.9,215.5 390.7,209.2 398.6,204.5 406.5,201.8 414.4,199.0 422.3,198.5 430.2,193.8 438.0,189.5 445.9,186.2 453.8,183.8 461.7,181.5 469.6,181.2 477.5,180.5 485.3,182.2 493.2,186.2 501.1,186.2 509.0,188.8 516.9,193.8 524.7,197.0 532.6,202.0 540.5,206.2 548.4,208.0 556.3,212.0 564.2,212.5 572.0,214.5 579.9,216.0 587.8,218.0 595.7,221.0 603.6,221.5 611.5,221.0 619.3,222.5 627.2,223.5 635.1,224.5 643.0,225.5 650.9,223.5 658.7,220.8 666.6,215.0 674.5,206.2 682.4,201.2 690.3,196.2 698.2,192.0 706.0,191.0 713.9,186.2 721.8,181.2 729.7,177.5 737.6,175.0 745.5,173.5 753.3,173.2 761.2,171.2 769.1,167.5 777.0,165.5 784.9,163.8 792.8,161.8 800.6,162.5 808.5,161.2 816.4,161.0 824.3,166.2 832.2,168.2 840.0,171.2 847.9,173.2 855.8,174.2 863.7,174.2 871.6,174.0 879.5,174.2 887.3,175.2 895.2,174.5 903.1,175.8 911.0,175.2 918.9,175.2 926.8,177.0 934.6,176.2 942.5,175.0 950.4,175.0 958.3,174.5 966.2,174.0 974.0,174.5 981.9,170.0 989.8,169.5 997.7,166.0 1005.6,165.2 1013.5,165.2 1021.3,165.0 1029.2,165.8 1037.1,169.5 1045.0,172.8 1052.9,175.2 1060.8,178.0 1068.6,179.5 1076.5,183.2 1084.4,185.5 1092.3,189.0 1100.2,192.5 1108.0,195.0 1115.9,197.5 1123.8,200.0 1131.7,203.2 1139.6,207.2 1147.5,210.8 1155.3,212.5 1163.2,214.2 1171.1,216.2 1179.0,217.0 1186.9,218.0 1194.8,219.2 1202.6,220.0 1210.5,220.0 1218.4,219.5 1226.3,218.8 1234.2,217.0 1242.1,214.0 1249.9,211.2 1257.8,211.0 1265.7,208.5 1273.6,205.5 1281.5,202.0 1289.3,195.0 1297.2,188.2 1305.1,184.2 1313.0,180.5 1320.9,178.8 1328.8,175.5 1336.6,173.0 1344.5,172.0 1352.4,167.5 1360.3,165.5 1368.2,164.2 1376.1,162.8 1383.9,161.5 1391.8,160.5 1399.7,161.5 1407.6,161.8 1415.5,162.0 1423.4,162.5 1431.2,164.0 1439.1,167.0 1447.0,169.0 1454.9,171.0 1462.8,173.0 1470.6,175.5 1478.5,177.5 1486.4,180.5 1494.3,181.2 1502.2,180.5 1510.1,179.5 1517.9,178.5 1525.8,178.8 1533.7,180.5 1541.6,182.0 1549.5,186.2 1557.4,192.5 1565.2,198.0 1573.1,204.2 1581.0,208.6 1588.9,211.7 1596.8,215.2 1604.6,217.2 1612.5,218.6 1620.4,219.3 1628.3,220.2 1636.2,220.7 1644.1,221.2 1651.9,222.4 1659.8,223.3 1667.7,224.2 1675.6,227.1 1683.5,230.8 1691.4,232.5"/>
<line x1="1289" y1="111.6" x2="1705.8" y2="157.5" stroke="#6060e2" stroke-width="1.15"/>
<line x1="1604.3" y1="267.4" x2="1705.8" y2="194.7" stroke="#ff2020" stroke-width="1.2"/>
<polygon points="1285.9,100 1293.1,100 1289.5,107" fill="#158700"/>
<polygon points="1521.9,126.3 1529.1,126.3 1525.5,133.3" fill="#158700"/>
<polygon points="1600.9,277 1608.1,277 1604.5,270" fill="#ff1010"/>
<polygon points="1639.9,249.2 1647.1,249.2 1643.5,242.2" fill="#ff1010"/>
<rect x="0" y="681" width="252" height="24" fill="#fff"/>
<rect x="0" y="763" width="74" height="25" fill="#fff"/>
<defs><clipPath id="c30"><rect x="0" y="872.5" width="1854" height="40"/></clipPath><clipPath id="c70"><rect x="0" y="754" width="1854" height="11.5"/></clipPath></defs>
<path d="M0,872.5 L0.0,837.5 L4.5,828.0 L12.4,857.0 L20.3,861.8 L28.1,888.8 L36.0,899.5 L43.9,878.0 L51.8,885.2 L59.7,825.8 L67.6,840.2 L75.4,840.5 L83.3,839.2 L91.2,836.0 L99.1,828.2 L107.0,829.2 L114.9,825.2 L122.7,829.2 L130.6,835.5 L138.5,810.2 L146.4,805.8 L154.3,800.0 L162.2,796.0 L170.0,797.5 L177.9,797.2 L185.8,792.8 L193.7,786.8 L201.6,788.8 L209.4,777.0 L217.3,780.5 L225.2,773.0 L233.1,773.2 L241.0,781.8 L248.9,775.2 L256.7,772.0 L264.6,767.0 L272.5,771.8 L280.4,774.0 L288.3,782.0 L296.2,773.8 L304.0,770.5 L311.9,775.2 L319.8,765.5 L327.7,767.0 L335.6,774.2 L343.4,771.2 L351.3,798.5 L359.2,790.5 L367.1,783.8 L375.0,772.0 L382.9,779.0 L390.7,796.2 L398.6,791.8 L406.5,794.2 L414.4,791.2 L422.3,787.0 L430.2,782.5 L438.0,782.0 L445.9,779.8 L453.8,782.2 L461.7,793.0 L469.6,805.0 L477.5,818.0 L485.3,826.8 L493.2,844.2 L501.1,845.2 L509.0,838.8 L516.9,852.8 L524.7,849.0 L532.6,857.5 L540.5,844.0 L548.4,847.2 L556.3,824.2 L564.2,811.8 L572.0,824.5 L579.9,809.2 L587.8,792.0 L595.7,788.2 L603.6,805.5 L611.5,816.8 L619.3,811.5 L627.2,806.5 L635.1,816.2 L643.0,811.2 L650.9,803.2 L658.7,789.2 L666.6,773.2 L674.5,785.8 L682.4,801.2 L690.3,808.8 L698.2,804.0 L706.0,815.5 L713.9,806.8 L721.8,795.5 L729.7,807.8 L737.6,806.8 L745.5,805.2 L753.3,817.0 L761.2,794.2 L769.1,808.2 L777.0,807.0 L784.9,803.2 L792.8,825.5 L800.6,813.0 L808.5,807.2 L816.4,827.8 L824.3,848.2 L832.2,847.2 L840.0,828.0 L847.9,825.8 L855.8,820.0 L863.7,808.5 L871.6,809.0 L879.5,808.5 L887.3,816.5 L895.2,814.8 L903.1,809.2 L911.0,797.5 L918.9,801.5 L926.8,800.0 L934.6,802.0 L942.5,804.5 L950.4,809.8 L958.3,808.2 L966.2,804.5 L974.0,804.0 L981.9,811.0 L989.8,818.2 L997.7,836.8 L1005.6,834.5 L1013.5,842.5 L1021.3,836.5 L1029.2,835.2 L1037.1,864.0 L1045.0,865.5 L1052.9,838.2 L1060.8,850.5 L1068.6,848.0 L1076.5,833.5 L1084.4,834.5 L1092.3,848.2 L1100.2,835.2 L1108.0,838.5 L1115.9,837.0 L1123.8,837.2 L1131.7,860.0 L1139.6,855.2 L1147.5,826.8 L1155.3,832.2 L1163.2,834.0 L1171.1,838.8 L1179.0,840.0 L1186.9,824.2 L1194.8,836.2 L1202.6,818.8 L1210.5,816.8 L1218.4,817.5 L1226.3,803.8 L1234.2,781.2 L1242.1,768.0 L1249.9,776.2 L1257.8,774.0 L1265.7,776.0 L1273.6,777.8 L1281.5,763.5 L1289.3,763.5 L1297.2,811.5 L1305.1,804.8 L1313.0,794.0 L1320.9,805.5 L1328.8,816.2 L1336.6,827.2 L1344.5,830.5 L1352.4,828.5 L1360.3,802.5 L1368.2,802.8 L1376.1,817.2 L1383.9,812.5 L1391.8,814.2 L1399.7,806.0 L1407.6,805.5 L1415.5,811.5 L1423.4,822.0 L1431.2,822.5 L1439.1,837.2 L1447.0,833.2 L1454.9,823.2 L1462.8,843.8 L1470.6,820.0 L1478.5,843.8 L1486.4,843.8 L1494.3,837.5 L1502.2,816.5 L1510.1,809.8 L1517.9,797.2 L1525.8,821.0 L1533.7,834.2 L1541.6,833.2 L1549.5,854.0 L1557.4,865.0 L1565.2,851.5 L1573.1,867.5 L1581.0,850.5 L1588.9,845.5 L1596.8,848.0 L1604.6,827.0 L1612.5,817.5 L1620.4,814.5 L1628.3,811.8 L1636.2,811.2 L1644.1,829.5 L1651.9,817.5 L1659.8,815.5 L1667.7,809.5 L1675.6,801.0 L1683.5,800.0 L1691.4,798.0 L1691.4,872.5 Z" fill="#b4b4b4" clip-path="url(#c30)"/>
<path d="M0,765.5 L0.0,837.5 L4.5,828.0 L12.4,857.0 L20.3,861.8 L28.1,888.8 L36.0,899.5 L43.9,878.0 L51.8,885.2 L59.7,825.8 L67.6,840.2 L75.4,840.5 L83.3,839.2 L91.2,836.0 L99.1,828.2 L107.0,829.2 L114.9,825.2 L122.7,829.2 L130.6,835.5 L138.5,810.2 L146.4,805.8 L154.3,800.0 L162.2,796.0 L170.0,797.5 L177.9,797.2 L185.8,792.8 L193.7,786.8 L201.6,788.8 L209.4,777.0 L217.3,780.5 L225.2,773.0 L233.1,773.2 L241.0,781.8 L248.9,775.2 L256.7,772.0 L264.6,767.0 L272.5,771.8 L280.4,774.0 L288.3,782.0 L296.2,773.8 L304.0,770.5 L311.9,775.2 L319.8,765.5 L327.7,767.0 L335.6,774.2 L343.4,771.2 L351.3,798.5 L359.2,790.5 L367.1,783.8 L375.0,772.0 L382.9,779.0 L390.7,796.2 L398.6,791.8 L406.5,794.2 L414.4,791.2 L422.3,787.0 L430.2,782.5 L438.0,782.0 L445.9,779.8 L453.8,782.2 L461.7,793.0 L469.6,805.0 L477.5,818.0 L485.3,826.8 L493.2,844.2 L501.1,845.2 L509.0,838.8 L516.9,852.8 L524.7,849.0 L532.6,857.5 L540.5,844.0 L548.4,847.2 L556.3,824.2 L564.2,811.8 L572.0,824.5 L579.9,809.2 L587.8,792.0 L595.7,788.2 L603.6,805.5 L611.5,816.8 L619.3,811.5 L627.2,806.5 L635.1,816.2 L643.0,811.2 L650.9,803.2 L658.7,789.2 L666.6,773.2 L674.5,785.8 L682.4,801.2 L690.3,808.8 L698.2,804.0 L706.0,815.5 L713.9,806.8 L721.8,795.5 L729.7,807.8 L737.6,806.8 L745.5,805.2 L753.3,817.0 L761.2,794.2 L769.1,808.2 L777.0,807.0 L784.9,803.2 L792.8,825.5 L800.6,813.0 L808.5,807.2 L816.4,827.8 L824.3,848.2 L832.2,847.2 L840.0,828.0 L847.9,825.8 L855.8,820.0 L863.7,808.5 L871.6,809.0 L879.5,808.5 L887.3,816.5 L895.2,814.8 L903.1,809.2 L911.0,797.5 L918.9,801.5 L926.8,800.0 L934.6,802.0 L942.5,804.5 L950.4,809.8 L958.3,808.2 L966.2,804.5 L974.0,804.0 L981.9,811.0 L989.8,818.2 L997.7,836.8 L1005.6,834.5 L1013.5,842.5 L1021.3,836.5 L1029.2,835.2 L1037.1,864.0 L1045.0,865.5 L1052.9,838.2 L1060.8,850.5 L1068.6,848.0 L1076.5,833.5 L1084.4,834.5 L1092.3,848.2 L1100.2,835.2 L1108.0,838.5 L1115.9,837.0 L1123.8,837.2 L1131.7,860.0 L1139.6,855.2 L1147.5,826.8 L1155.3,832.2 L1163.2,834.0 L1171.1,838.8 L1179.0,840.0 L1186.9,824.2 L1194.8,836.2 L1202.6,818.8 L1210.5,816.8 L1218.4,817.5 L1226.3,803.8 L1234.2,781.2 L1242.1,768.0 L1249.9,776.2 L1257.8,774.0 L1265.7,776.0 L1273.6,777.8 L1281.5,763.5 L1289.3,763.5 L1297.2,811.5 L1305.1,804.8 L1313.0,794.0 L1320.9,805.5 L1328.8,816.2 L1336.6,827.2 L1344.5,830.5 L1352.4,828.5 L1360.3,802.5 L1368.2,802.8 L1376.1,817.2 L1383.9,812.5 L1391.8,814.2 L1399.7,806.0 L1407.6,805.5 L1415.5,811.5 L1423.4,822.0 L1431.2,822.5 L1439.1,837.2 L1447.0,833.2 L1454.9,823.2 L1462.8,843.8 L1470.6,820.0 L1478.5,843.8 L1486.4,843.8 L1494.3,837.5 L1502.2,816.5 L1510.1,809.8 L1517.9,797.2 L1525.8,821.0 L1533.7,834.2 L1541.6,833.2 L1549.5,854.0 L1557.4,865.0 L1565.2,851.5 L1573.1,867.5 L1581.0,850.5 L1588.9,845.5 L1596.8,848.0 L1604.6,827.0 L1612.5,817.5 L1620.4,814.5 L1628.3,811.8 L1636.2,811.2 L1644.1,829.5 L1651.9,817.5 L1659.8,815.5 L1667.7,809.5 L1675.6,801.0 L1683.5,800.0 L1691.4,798.0 L1691.4,765.5 Z" fill="#b4b4b4" clip-path="url(#c70)"/>
<polyline fill="none" stroke="#111" stroke-width="1.1" stroke-linejoin="round" points="0.0,837.5 4.5,828.0 12.4,857.0 20.3,861.8 28.1,888.8 36.0,899.5 43.9,878.0 51.8,885.2 59.7,825.8 67.6,840.2 75.4,840.5 83.3,839.2 91.2,836.0 99.1,828.2 107.0,829.2 114.9,825.2 122.7,829.2 130.6,835.5 138.5,810.2 146.4,805.8 154.3,800.0 162.2,796.0 170.0,797.5 177.9,797.2 185.8,792.8 193.7,786.8 201.6,788.8 209.4,777.0 217.3,780.5 225.2,773.0 233.1,773.2 241.0,781.8 248.9,775.2 256.7,772.0 264.6,767.0 272.5,771.8 280.4,774.0 288.3,782.0 296.2,773.8 304.0,770.5 311.9,775.2 319.8,765.5 327.7,767.0 335.6,774.2 343.4,771.2 351.3,798.5 359.2,790.5 367.1,783.8 375.0,772.0 382.9,779.0 390.7,796.2 398.6,791.8 406.5,794.2 414.4,791.2 422.3,787.0 430.2,782.5 438.0,782.0 445.9,779.8 453.8,782.2 461.7,793.0 469.6,805.0 477.5,818.0 485.3,826.8 493.2,844.2 501.1,845.2 509.0,838.8 516.9,852.8 524.7,849.0 532.6,857.5 540.5,844.0 548.4,847.2 556.3,824.2 564.2,811.8 572.0,824.5 579.9,809.2 587.8,792.0 595.7,788.2 603.6,805.5 611.5,816.8 619.3,811.5 627.2,806.5 635.1,816.2 643.0,811.2 650.9,803.2 658.7,789.2 666.6,773.2 674.5,785.8 682.4,801.2 690.3,808.8 698.2,804.0 706.0,815.5 713.9,806.8 721.8,795.5 729.7,807.8 737.6,806.8 745.5,805.2 753.3,817.0 761.2,794.2 769.1,808.2 777.0,807.0 784.9,803.2 792.8,825.5 800.6,813.0 808.5,807.2 816.4,827.8 824.3,848.2 832.2,847.2 840.0,828.0 847.9,825.8 855.8,820.0 863.7,808.5 871.6,809.0 879.5,808.5 887.3,816.5 895.2,814.8 903.1,809.2 911.0,797.5 918.9,801.5 926.8,800.0 934.6,802.0 942.5,804.5 950.4,809.8 958.3,808.2 966.2,804.5 974.0,804.0 981.9,811.0 989.8,818.2 997.7,836.8 1005.6,834.5 1013.5,842.5 1021.3,836.5 1029.2,835.2 1037.1,864.0 1045.0,865.5 1052.9,838.2 1060.8,850.5 1068.6,848.0 1076.5,833.5 1084.4,834.5 1092.3,848.2 1100.2,835.2 1108.0,838.5 1115.9,837.0 1123.8,837.2 1131.7,860.0 1139.6,855.2 1147.5,826.8 1155.3,832.2 1163.2,834.0 1171.1,838.8 1179.0,840.0 1186.9,824.2 1194.8,836.2 1202.6,818.8 1210.5,816.8 1218.4,817.5 1226.3,803.8 1234.2,781.2 1242.1,768.0 1249.9,776.2 1257.8,774.0 1265.7,776.0 1273.6,777.8 1281.5,763.5 1289.3,763.5 1297.2,811.5 1305.1,804.8 1313.0,794.0 1320.9,805.5 1328.8,816.2 1336.6,827.2 1344.5,830.5 1352.4,828.5 1360.3,802.5 1368.2,802.8 1376.1,817.2 1383.9,812.5 1391.8,814.2 1399.7,806.0 1407.6,805.5 1415.5,811.5 1423.4,822.0 1431.2,822.5 1439.1,837.2 1447.0,833.2 1454.9,823.2 1462.8,843.8 1470.6,820.0 1478.5,843.8 1486.4,843.8 1494.3,837.5 1502.2,816.5 1510.1,809.8 1517.9,797.2 1525.8,821.0 1533.7,834.2 1541.6,833.2 1549.5,854.0 1557.4,865.0 1565.2,851.5 1573.1,867.5 1581.0,850.5 1588.9,845.5 1596.8,848.0 1604.6,827.0 1612.5,817.5 1620.4,814.5 1628.3,811.8 1636.2,811.2 1644.1,829.5 1651.9,817.5 1659.8,815.5 1667.7,809.5 1675.6,801.0 1683.5,800.0 1691.4,798.0"/>
<g shape-rendering="crispEdges">
<rect x="0" y="36" width="1912" height="1" fill="#4a4a4a"/>
<rect x="1854" y="37" width="1" height="874" fill="#606060"/>
<rect x="0" y="910" width="1855" height="1" fill="#606060"/>
<rect x="0" y="911" width="1" height="5" fill="#606060"/>
<rect x="197" y="911" width="1" height="5" fill="#606060"/>
<rect x="402" y="911" width="1" height="5" fill="#606060"/>
<rect x="607" y="911" width="1" height="5" fill="#606060"/>
<rect x="820" y="911" width="1" height="5" fill="#606060"/>
<rect x="1025" y="911" width="1" height="5" fill="#606060"/>
<rect x="1229" y="911" width="1" height="5" fill="#606060"/>
<rect x="1442" y="911" width="1" height="5" fill="#606060"/>
<rect x="1639" y="911" width="1" height="5" fill="#606060"/>
<rect x="398" y="27" width="1" height="9" fill="#d8d8d8"/>
<rect x="434" y="27" width="1" height="9" fill="#d8d8d8"/>
<rect x="1906" y="4" width="2" height="27" fill="#e6e6e6"/>
<rect x="1855" y="89" width="2.5" height="1" fill="#777"/>
<rect x="1855" y="184" width="2.5" height="1" fill="#777"/>
<rect x="1855" y="280" width="2.5" height="1" fill="#777"/>
<rect x="1855" y="375" width="2.5" height="1" fill="#777"/>
<rect x="1855" y="470" width="2.5" height="1" fill="#777"/>
<rect x="1855" y="565" width="2.5" height="1" fill="#777"/>
<rect x="1855" y="660" width="2.5" height="1" fill="#777"/>
<rect x="1855" y="765" width="2.5" height="1" fill="#777"/>
<rect x="1855" y="791" width="2.5" height="1" fill="#777"/>
<rect x="1855" y="818" width="2.5" height="1" fill="#777"/>
<rect x="1855" y="845" width="2.5" height="1" fill="#777"/>
<rect x="1855" y="871" width="2.5" height="1" fill="#777"/>
<rect x="1855" y="898" width="2.5" height="1" fill="#777"/>
</g>
<text x="1860" y="92.4" font-family="Liberation Sans, Arial, sans-serif" font-size="11" fill="#444">25,000</text>
<text x="1860" y="187.4" font-family="Liberation Sans, Arial, sans-serif" font-size="11" fill="#444">24,000</text>
<text x="1860" y="283.4" font-family="Liberation Sans, Arial, sans-serif" font-size="11" fill="#444">23,000</text>
<text x="1860" y="378.4" font-family="Liberation Sans, Arial, sans-serif" font-size="11" fill="#444">22,000</text>
<text x="1860" y="473.4" font-family="Liberation Sans, Arial, sans-serif" font-size="11" fill="#444">21,000</text>
<text x="1860" y="568.4" font-family="Liberation Sans, Arial, sans-serif" font-size="11" fill="#444">20,000</text>
<text x="1860" y="663.4" font-family="Liberation Sans, Arial, sans-serif" font-size="11" fill="#444">19,000</text>
<text x="1860" y="768.9" font-family="Liberation Sans, Arial, sans-serif" font-size="11" fill="#222"><tspan font-weight="bold">70</tspan>.0</text>
<text x="1860" y="794.9" font-family="Liberation Sans, Arial, sans-serif" font-size="11" fill="#444">60.0</text>
<text x="1860" y="821.5999999999999" font-family="Liberation Sans, Arial, sans-serif" font-size="11" fill="#444">50.0</text>
<text x="1860" y="848.3" font-family="Liberation Sans, Arial, sans-serif" font-size="11" fill="#444">40.0</text>
<text x="1860" y="875.6" font-family="Liberation Sans, Arial, sans-serif" font-size="11" fill="#222"><tspan font-weight="bold">30</tspan>.0</text>
<text x="1860" y="901.5999999999999" font-family="Liberation Sans, Arial, sans-serif" font-size="11" fill="#444">20.0</text>
<text x="0.5" y="927" text-anchor="middle" font-family="Liberation Sans, Arial, sans-serif" font-size="11.5" letter-spacing="0.3" fill="#555">Apr</text>
<text x="197.5" y="927" text-anchor="middle" font-family="Liberation Sans, Arial, sans-serif" font-size="11.5" letter-spacing="0.3" fill="#555">May</text>
<text x="402.5" y="927" text-anchor="middle" font-family="Liberation Sans, Arial, sans-serif" font-size="11.5" letter-spacing="0.3" fill="#555">Jun</text>
<text x="607.5" y="927" text-anchor="middle" font-family="Liberation Sans, Arial, sans-serif" font-size="11.5" letter-spacing="0.3" fill="#555">Jul</text>
<text x="820.5" y="927" text-anchor="middle" font-family="Liberation Sans, Arial, sans-serif" font-size="11.5" letter-spacing="0.3" fill="#555">Aug</text>
<text x="1025.5" y="927" text-anchor="middle" font-family="Liberation Sans, Arial, sans-serif" font-size="11.5" letter-spacing="0.3" fill="#555">Sept</text>
<text x="1229.5" y="927" text-anchor="middle" font-family="Liberation Sans, Arial, sans-serif" font-size="11.5" letter-spacing="0.3" fill="#555">Oct</text>
<text x="1442.5" y="927" text-anchor="middle" font-family="Liberation Sans, Arial, sans-serif" font-size="11.5" letter-spacing="0.3" fill="#555">Nov</text>
<text x="1639.5" y="927" text-anchor="middle" font-family="Liberation Sans, Arial, sans-serif" font-size="11.5" letter-spacing="0.3" fill="#555">Dec</text>
<path d="M1846.5,171.2 L1854.5,163.45 H1894 Q1896,163.45 1896,165.45 V176.95 Q1896,178.95 1894,178.95 H1854.5 Z" fill="#f68a1f"/>
<text x="1860" y="175.2" font-family="Liberation Sans, Arial, sans-serif" font-size="11" fill="#111">24,142</text>
<path d="M1846.5,177.5 L1854.5,169.8 H1908.3 Q1910.3,169.8 1910.3,171.8 V183.2 Q1910.3,185.2 1908.3,185.2 H1854.5 Z" fill="#6854a8"/>
<text x="1860" y="181.5" font-family="Liberation Sans, Arial, sans-serif" font-size="11" fill="#fff">24,075.00</text>
<path d="M1846.5,232.5 L1854.5,224.7 H1894 Q1896,224.7 1896,226.7 V238.3 Q1896,240.3 1894,240.3 H1854.5 Z" fill="#4dc9c9"/>
<text x="1860" y="236.5" font-family="Liberation Sans, Arial, sans-serif" font-size="11" fill="#111">23,499</text>
<path d="M1846.5,293.8 L1854.5,286.1 H1894 Q1896,286.1 1896,288.1 V299.5 Q1896,301.5 1894,301.5 H1854.5 Z" fill="#f68a1f"/>
<text x="1860" y="297.8" font-family="Liberation Sans, Arial, sans-serif" font-size="11" fill="#111">22,855</text>
<path d="M1846.5,798.4 L1854.5,790.8 H1882.2 Q1884.2,790.8 1884.2,792.8 V804.0 Q1884.2,806.0 1882.2,806.0 H1854.5 Z" fill="#000"/>
<text x="1860.5" y="802.4" font-family="Liberation Sans, Arial, sans-serif" font-size="11" fill="#fff">57.8</text>
<text x="10.3" y="65" font-family="Liberation Sans, Arial, sans-serif" font-size="11" letter-spacing="0.12" font-weight="bold" fill="#333">GERMANY 40, DAILY</text>
<text x="4.3" y="697.4" font-family="Liberation Sans, Arial, sans-serif" font-size="10" font-weight="bold" fill="#333">VWAP</text>
<text x="37.8" y="697.4" font-family="Liberation Sans, Arial, sans-serif" font-size="10" letter-spacing="0.15" fill="#444">20 1 2 3</text>
<path transform="translate(86.1,693.9)" d="M0,-5.8 L1.2,-5.8 L1.6,-4.2 L2.6,-3.8 L4,-4.7 L4.8,-3.9 L3.9,-2.5 L4.3,-1.5 L5.9,-1.1 L5.9,1.1 L4.3,1.5 L3.9,2.5 L4.8,3.9 L4,4.7 L2.6,3.8 L1.6,4.2 L1.2,5.8 L-1.2,5.8 L-1.6,4.2 L-2.6,3.8 L-4,4.7 L-4.8,3.9 L-3.9,2.5 L-4.3,1.5 L-5.9,1.1 L-5.9,-1.1 L-4.3,-1.5 L-3.9,-2.5 L-4.8,-3.9 L-4,-4.7 L-2.6,-3.8 L-1.6,-4.2 L-1.2,-5.8 Z M0,-2.1 A2.1,2.1 0 1,0 0.01,-2.1 Z" fill="#9a9a9a" fill-rule="evenodd"/>
<path d="M99.60000000000001,690.4 L106.8,697.6 M106.8,690.4 L99.60000000000001,697.6" stroke="#9a9a9a" stroke-width="2.4" fill="none"/>
<text x="121.7" y="697.4" font-family="Liberation Sans, Arial, sans-serif" font-size="10" font-weight="bold" fill="#333">AUTO TREND</text>
<text x="191" y="697.4" font-family="Liberation Sans, Arial, sans-serif" font-size="10" letter-spacing="0.2" fill="#444">5 2 2</text>
<path transform="translate(225.9,693.9)" d="M0,-5.8 L1.2,-5.8 L1.6,-4.2 L2.6,-3.8 L4,-4.7 L4.8,-3.9 L3.9,-2.5 L4.3,-1.5 L5.9,-1.1 L5.9,1.1 L4.3,1.5 L3.9,2.5 L4.8,3.9 L4,4.7 L2.6,3.8 L1.6,4.2 L1.2,5.8 L-1.2,5.8 L-1.6,4.2 L-2.6,3.8 L-4,4.7 L-4.8,3.9 L-3.9,2.5 L-4.3,1.5 L-5.9,1.1 L-5.9,-1.1 L-4.3,-1.5 L-3.9,-2.5 L-4.8,-3.9 L-4,-4.7 L-2.6,-3.8 L-1.6,-4.2 L-1.2,-5.8 Z M0,-2.1 A2.1,2.1 0 1,0 0.01,-2.1 Z" fill="#9a9a9a" fill-rule="evenodd"/>
<path d="M239.6,690.4 L246.79999999999998,697.6 M246.79999999999998,690.4 L239.6,697.6" stroke="#9a9a9a" stroke-width="2.4" fill="none"/>
<text x="4.4" y="779" font-family="Liberation Sans, Arial, sans-serif" font-size="10" fill="#555"><tspan font-weight="bold" fill="#333">RSI</tspan> 14</text>
<path transform="translate(46,776.9)" d="M0,-5.8 L1.2,-5.8 L1.6,-4.2 L2.6,-3.8 L4,-4.7 L4.8,-3.9 L3.9,-2.5 L4.3,-1.5 L5.9,-1.1 L5.9,1.1 L4.3,1.5 L3.9,2.5 L4.8,3.9 L4,4.7 L2.6,3.8 L1.6,4.2 L1.2,5.8 L-1.2,5.8 L-1.6,4.2 L-2.6,3.8 L-4,4.7 L-4.8,3.9 L-3.9,2.5 L-4.3,1.5 L-5.9,1.1 L-5.9,-1.1 L-4.3,-1.5 L-3.9,-2.5 L-4.8,-3.9 L-4,-4.7 L-2.6,-3.8 L-1.6,-4.2 L-1.2,-5.8 Z M0,-2.1 A2.1,2.1 0 1,0 0.01,-2.1 Z" fill="#9a9a9a" fill-rule="evenodd"/>
<path d="M59.4,773.4 L66.6,780.6 M66.6,773.4 L59.4,780.6" stroke="#9a9a9a" stroke-width="2.4" fill="none"/>
<path d="M85.5,782 V770.5 M80,776 L85.5,770.5 L91,776" stroke="#555" stroke-width="1" fill="none"/>
<text x="6.2" y="21.3" font-family="Liberation Sans, Arial, sans-serif" font-size="13" font-weight="bold" fill="#333">Daily</text>
<polygon points="42.7,14.6 52.7,14.6 47.7,19.8" fill="#555"/>
<text x="72.7" y="21.3" font-family="Liberation Sans, Arial, sans-serif" font-size="13" font-weight="bold" fill="#333">Technical</text>
<polygon points="137.8,14.6 147.8,14.6 142.8,19.8" fill="#555"/>
<text x="167.3" y="21.3" font-family="Liberation Sans, Arial, sans-serif" font-size="13" font-weight="bold" fill="#333">Display</text>
<polygon points="218.4,14.6 228.4,14.6 223.4,19.8" fill="#555"/>
<text x="248.5" y="21.3" font-family="Liberation Sans, Arial, sans-serif" font-size="13" font-weight="bold" fill="#333">More</text>
<polygon points="285.7,14.6 295.7,14.6 290.7,19.8" fill="#555"/>
<path d="M317.6,21.3 V11.6 Q317.6,10.6 318.6,10.6 H322.3 L323.8,12.3 H328 Q329,12.3 329,13.3 V14.8" stroke="#444" stroke-width="0.85" fill="none"/>
<path d="M322.6,15.3 H332 L329.1,22 H318.6 Z" fill="#333" stroke="#333" stroke-width="0.8" stroke-linejoin="round"/>
<path d="M352.3,8.9 H362.4 L366,12.5 V22.6 Q366,23.9 364.7,23.9 H352.3 Q351,23.9 351,22.6 V10.2 Q351,8.9 352.3,8.9 Z" fill="#333"/>
<rect x="354.9" y="9.9" width="7" height="4.2" fill="#fff"/>
<rect x="359.2" y="10.5" width="1.6" height="2.6" fill="#333"/>
<rect x="353.3" y="16.2" width="10.4" height="6.4" rx="0.8" fill="#fff"/>
<rect x="384" y="13.3" width="15" height="3.8" fill="#000"/>
<rect x="419.9" y="13.4" width="15" height="3.8" fill="#000"/>
<rect x="425.5" y="7.7" width="3.8" height="15.2" fill="#000"/>
</svg>
</body></html>
